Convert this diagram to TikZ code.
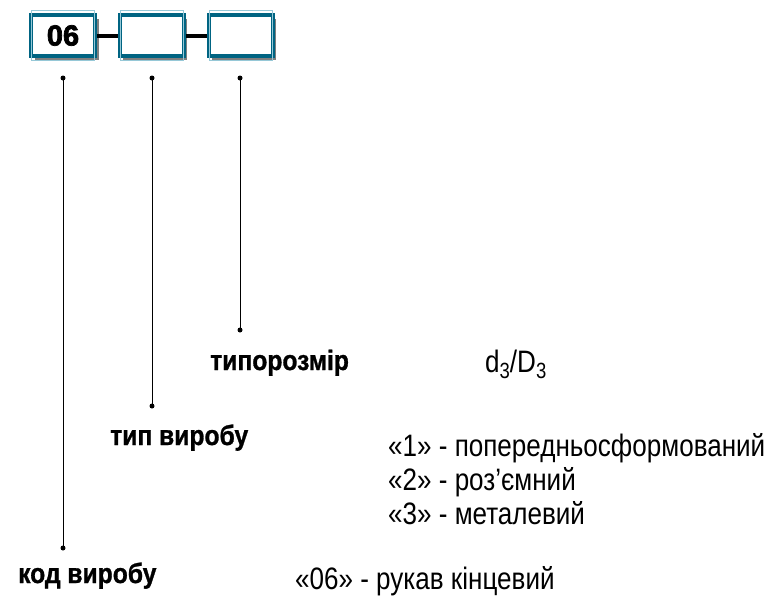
\documentclass[tikz,border=0pt]{standalone}
\usepackage{fontspec}
\setmainfont[FakeStretch=0.84]{Liberation Sans}
\newfontfamily\boxfont[FakeBold=2.5]{Liberation Sans}
\newfontfamily\lblfont[FakeStretch=0.88,FakeBold=1]{Liberation Sans}
\usetikzlibrary{shadows}
\definecolor{boxteal}{RGB}{0,100,130}
\definecolor{boxinner}{RGB}{150,200,215}
\tikzset{
  codebox/.style={draw=boxteal, line width=4pt, fill=white, minimum width=64pt, minimum height=41pt, inner sep=0pt,
    drop shadow={shadow xshift=3.5pt, shadow yshift=-3.5pt, opacity=0.5, fill=black}},
  pin/.style={circle, fill=black, inner sep=0pt, minimum size=5pt},
  lead/.style={line width=0.8pt},
  dashbar/.style={line width=4pt},
  lbl/.style={font=\lblfont\fontsize{28}{30}\selectfont\bfseries, inner sep=0pt, anchor=base west},
  val/.style={font=\fontsize{31}{34}\selectfont, inner sep=0pt, anchor=base west}
}
\begin{document}
\begin{tikzpicture}[x=1pt,y=-1pt]
\useasboundingbox (0,0) rectangle (771,595);
% boxes
\node[codebox] (b1) at (63,35.5) {\boxfont\fontsize{29}{30}\selectfont\bfseries 06};
\node[codebox] (b2) at (151.5,35.5) {};
\node[codebox] (b3) at (240.5,35.5) {};
\foreach \b in {b1,b2,b3}{
  \draw[boxinner, line width=0.6pt] ([shift={(2.4,-2.4)}]\b.north west) rectangle ([shift={(-2.4,2.4)}]\b.south east);
}
% dashes
\draw[dashbar] (b1.east) -- (b2.west);
\draw[dashbar] (b2.east) -- (b3.west);
% pins
\node[pin] (p1t) at (63,78) {};
\node[pin] (p2t) at (152,78) {};
\node[pin] (p3t) at (240,78) {};
\node[pin] (p1b) at (63,548) {};
\node[pin] (p2b) at (152,406) {};
\node[pin] (p3b) at (240,330) {};
\draw[lead] (p1t.center) -- (p1b.center);
\draw[lead] (p2t.center) -- (p2b.center);
\draw[lead] (p3t.center) -- (p3b.center);
% labels
\node[lbl] (l3) at (210,370) {типорозмір};
\node[lbl] (l2) at (110,445) {тип виробу};
\node[lbl] (l1) at (18,583) {код виробу};
% values
\node[val] (v3) at (485,372) {d\raisebox{-0.4ex}{\fontsize{22}{24}\selectfont 3}/D\raisebox{-0.4ex}{\fontsize{22}{24}\selectfont 3}};
\node[val] (v21) at (388,456) {«1» - попередньосформований};
\node[val] (v22) at (388,490) {«2» - роз’ємний};
\node[val] (v23) at (388,524) {«3» - металевий};
\node[val] (v1) at (295,589) {«06» - рукав кінцевий};
\end{tikzpicture}
\end{document}
